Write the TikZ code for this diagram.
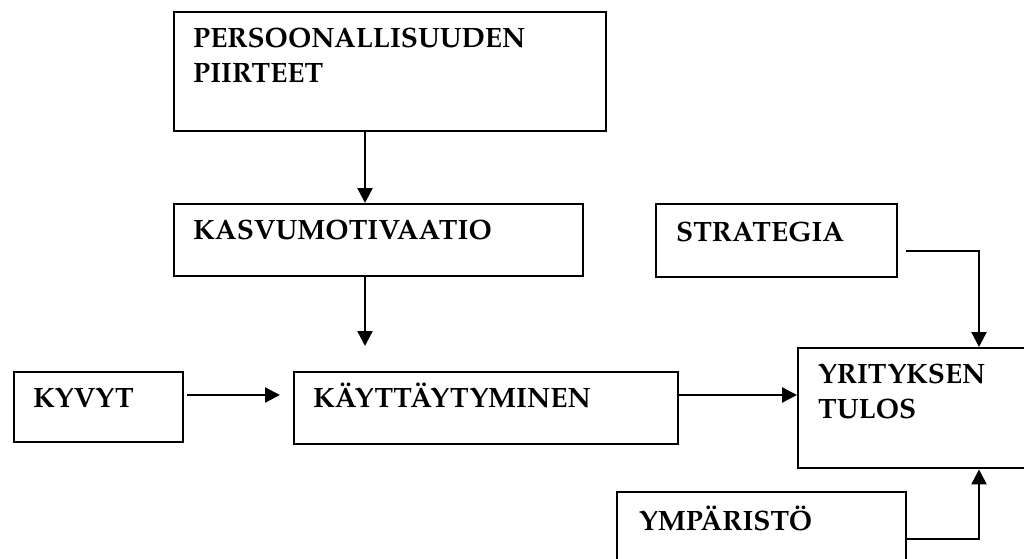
\documentclass[tikz,border=0pt]{standalone}
\usepackage{fontspec}
\setmainfont{TeX Gyre Pagella}
\usetikzlibrary{arrows.meta}

\tikzset{
  box/.style={draw, line width=2.4pt, inner sep=0pt, anchor=north west},
  lbl/.style={anchor=base west, inner sep=0pt, font=\fontsize{28}{34}\selectfont\bfseries},
  arr/.style={line width=2.3pt, -{Triangle[length=15pt,width=15pt]}},
}

\begin{document}
\begin{tikzpicture}[x=1pt, y=-1pt]
  \useasboundingbox (0,0) rectangle (1024,558);

  % boxes: top-left corner, width, height
  \node[box, minimum width=432pt, minimum height=119pt] (pers)  at (173,11)  {};
  \node[box, minimum width=409pt, minimum height=72pt]  (kasvu) at (173,203) {};
  \node[box, minimum width=241pt, minimum height=73pt]  (strat) at (655,203) {};
  \node[box, minimum width=169pt, minimum height=70pt]  (kyvyt) at (13,371)  {};
  \node[box, minimum width=384pt, minimum height=72pt]  (kayt)  at (293,371) {};
  \node[box, minimum width=240pt, minimum height=120pt] (yrit)  at (797,347) {};
  \node[box, minimum width=289pt, minimum height=90pt]  (ymp)   at (616,491) {};

  % box texts
  \node[lbl] (persA)  at (193,47)  {PERSOONALLISUUDEN};
  \node[lbl] (persB)  at (193,82)  {PIIRTEET};
  \node[lbl] (kasvuT) at (193,239) {KASVUMOTIVAATIO};
  \node[lbl] (stratT) at (676,241) {STRATEGIA};
  \node[lbl] (kyvytT) at (33,407)  {KYVYT};
  \node[lbl] (kaytT)  at (313,407) {KÄYTTÄYTYMINEN};
  \node[lbl] (yritA)  at (818,383) {YRITYKSEN};
  \node[lbl] (yritB)  at (818,418) {TULOS};
  \node[lbl] (ympT)   at (639,530) {YMPÄRISTÖ};

  % guide coordinates for the connectors
  \coordinate (vx) at (365,0);
  \coordinate (hy) at (0,395);
  \coordinate (rx) at (979,251);
  \coordinate (by) at (0,539);

  % connectors
  \draw[arr] (vx |- pers.south) -- (vx |- kasvu.north);
  \draw[arr] (vx |- kasvu.south) -- ([yshift=25pt]vx |- kayt.north);
  \draw[arr] ([xshift=3pt]kyvyt.east |- hy) -- ([xshift=-13pt]kayt.west |- hy);
  \draw[arr] (kayt.east |- hy) -- (yrit.west |- hy);
  \draw[arr] ([xshift=8pt]strat.east |- rx) -| (rx |- yrit.north);
  \draw[arr] (ymp.east |- by) -| (rx |- yrit.south);
\end{tikzpicture}
\end{document}
